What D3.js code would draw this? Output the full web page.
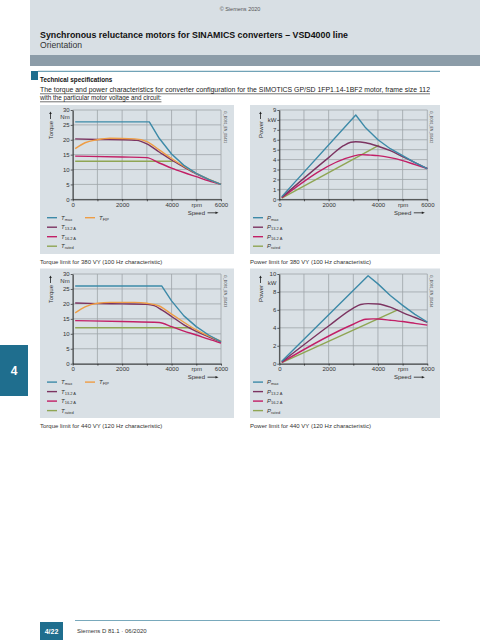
<!DOCTYPE html>
<html><head><meta charset="utf-8">
<script src="https://cdn.jsdelivr.net/npm/d3@7"></script>
<style>body{margin:0;background:#fff;} svg{display:block;font-family:"Liberation Sans",Arial,sans-serif;}</style>
</head><body><svg id="c" width="480" height="640"></svg>
<script>
// ---------- data ----------
const speedGrid = [0,1000,2000,3000,4000,5000,6000];
const speedTickLabels = ["0","","2000","","4000","rpm","6000"];
const torqueTicks = [0,5,10,15,20,25,30];
const torqueTickLabels = ["0","5","10","15","20","25","30"];
const power380Ticks = [0,1,2,3,4,5,6,7,8,9];
const power380TickLabels = ["0","1","2","3","4","5","6","7","kW","9"];
const power440Ticks = [0,2,4,6,8,10];
const power440TickLabels = ["0","2","4","6","8","10"];

const torqueLegend = ["max","13.2 A","16.2 A","rated"];
const powerLegend = ["max","13.2 A","16.2 A","rated"];

// 380 VY torque (Nm) vs speed (rpm)
const t380MaxN = [100,3100,3500,4000,4500,5000,5500,6000];
const t380Max  = [26,26,20.5,15.2,11.4,8.7,6.7,5.0];
const t380A132N = [100,1000,2000,2600,3000,3500,4000,4500,5000,5500,6000];
const t380A132  = [20.3,20.1,20.0,19.8,18.6,15.9,13.2,10.8,8.5,6.6,5.0];
const t380A162N = [100,2000,3000,3500,4000,4500,5000,5500,6000];
const t380A162  = [14.5,14.2,14.0,12.2,10.5,9.0,7.6,6.2,5.0];
const t380RatedN = [100,4050];
const t380Rated  = [12.8,12.8];
const t380FipN = [100,500,1000,1500,2500,3000,3500,4000,5000,6000];
const t380Fip  = [17.0,19.0,20.0,20.5,20.3,19.4,16.6,13.7,8.7,5.0];

// 380 VY power (kW)
const p380MaxN = [100,3100,3500,4000,4500,5000,5500,6000];
const p380Max  = [0.27,8.5,7.2,6.0,5.1,4.4,3.7,3.1];
const p380A132N = [100,2000,2600,2900,3100,3500,4000,4500,5000,5500,6000];
const p380A132  = [0.2,4.2,5.4,5.75,5.8,5.7,5.35,4.9,4.3,3.7,3.1];
const p380A162N = [100,3000,3300,3700,4000,4500,5000,5500,6000];
const p380A162  = [0.15,4.35,4.5,4.45,4.4,4.2,3.9,3.5,3.1];
const p380RatedN = [100,4050];
const p380Rated  = [0.13,5.45];

// 440 VY torque (Nm)
const t440MaxN = [100,3600,4000,4500,5000,5500,6000];
const t440Max  = [26,26,21,16,12.4,9.6,7.4];
const t440A132N = [100,1000,2000,3000,3300,3600,4000,4500,5000,5500,6000];
const t440A132  = [20.3,20.1,20.0,19.9,19.4,18.0,15.8,13.0,10.8,9.0,7.3];
const t440A162N = [100,2000,3500,4000,4500,5000,5500,6000];
const t440A162  = [14.4,14.1,13.8,12.4,10.9,9.6,8.2,6.9];
const t440RatedN = [100,4800];
const t440Rated  = [12.0,12.0];
const t440FipN = [100,500,1000,1500,2500,3000,3500,4000,5000,6000];
const t440Fip  = [17.0,19.0,20.2,20.5,20.5,20.2,19.3,16.6,11.3,7.5];

// 440 VY power (kW)
const p440MaxN = [100,3600,4000,4500,5000,5500,6000];
const p440Max  = [0.27,9.8,8.9,7.6,6.5,5.5,4.65];
const p440A132N = [100,2000,3000,3300,3600,4000,4500,5000,5500,6000];
const p440A132  = [0.2,4.2,6.2,6.6,6.7,6.65,6.3,5.7,5.15,4.6];
const p440A162N = [100,3000,3500,3800,4000,4500,5000,5500,6000];
const p440A162  = [0.15,4.4,4.95,5.0,4.98,4.85,4.7,4.5,4.3];
const p440RatedN = [100,4800];
const p440Rated  = [0.12,6.0];

// ---------- styles ----------
const C = {max:"#3d8aa8", a132:"#7c3461", a162:"#c21f66", rated:"#8fa553", fip:"#ee9d45"};
const teal = "#1f6e8e";
const panelFill = "#d9e0e5";

const svg = d3.select("#c");
const zip = (n,v)=>n.map((d,i)=>[d,v[i]]);

// ---------- page furniture ----------
svg.append("rect").attr("x",30).attr("y",0).attr("width",450).attr("height",55).attr("fill","#d8dfe4");
svg.append("rect").attr("x",30).attr("y",55).attr("width",450).attr("height",11).attr("fill","#8c9ca8");
svg.append("text").attr("x",240).attr("y",11).attr("text-anchor","middle").attr("font-size",5.5).attr("fill","#555").text("© Siemens 2020");
svg.append("text").attr("x",40).attr("y",37.5).attr("font-size",8.6).attr("font-weight","bold").attr("fill","#111")
  .attr("textLength",308).attr("lengthAdjust","spacingAndGlyphs")
  .text("Synchronous reluctance motors for SINAMICS converters – VSD4000 line");
svg.append("text").attr("x",40).attr("y",47.5).attr("font-size",8.6).attr("fill","#333").text("Orientation");

svg.append("rect").attr("x",31).attr("y",71).attr("width",7).attr("height",9).attr("fill",teal);
svg.append("line").attr("x1",38).attr("x2",440).attr("y1",71.3).attr("y2",71.3).attr("stroke",teal).attr("stroke-width",0.8);
svg.append("text").attr("x",40).attr("y",82).attr("font-size",6.3).attr("font-weight","bold").attr("fill","#111").text("Technical specifications");
const p1 = svg.append("text").attr("x",40).attr("y",92).attr("font-size",6.3).attr("fill","#222")
  .attr("textLength",390).attr("lengthAdjust","spacingAndGlyphs")
  .text("The torque and power characteristics for converter configuration for the SIMOTICS GP/SD 1FP1.14-1BF2 motor, frame size 112");
const p2 = svg.append("text").attr("x",40).attr("y",100.3).attr("font-size",6.3).attr("fill","#222")
  .text("with the particular motor voltage and circuit:");
svg.append("line").attr("x1",40).attr("x2",430).attr("y1",93.8).attr("y2",93.8).attr("stroke","#111").attr("stroke-width",0.6);
const w2 = p2.node().getComputedTextLength();
svg.append("line").attr("x1",40).attr("x2",40+w2).attr("y1",101.8).attr("y2",101.8).attr("stroke","#111").attr("stroke-width",0.6);

// side tab
svg.append("rect").attr("x",0).attr("y",345).attr("width",28).attr("height",51).attr("fill",teal);
svg.append("text").attr("x",14).attr("y",375).attr("text-anchor","middle").attr("font-size",12).attr("font-weight","bold").attr("fill","#fff").text("4");

// footer
svg.append("rect").attr("x",40).attr("y",622).attr("width",23).attr("height",18).attr("fill",teal);
svg.append("text").attr("x",51.5).attr("y",634).attr("text-anchor","middle").attr("font-size",7).attr("font-weight","bold").attr("fill","#fff").text("4/22");
svg.append("line").attr("x1",75).attr("x2",440).attr("y1",620.5).attr("y2",620.5).attr("stroke",teal).attr("stroke-width",0.6);
svg.append("text").attr("x",77).attr("y",633).attr("font-size",6).attr("fill","#333").text("Siemens D 81.1 · 06/2020");

// ---------- chart drawing ----------
function chart(o){
  const x = d3.scaleLinear().domain([0,6000]).range([o.x0,o.x1]);
  const y = d3.scaleLinear().domain([0,o.ymax]).range([o.y0,o.y1]);
  svg.append("rect").attr("x",o.px).attr("y",o.py).attr("width",o.pw).attr("height",o.ph).attr("fill",panelFill);
  const g = svg.append("g");
  g.selectAll("line.v").data(speedGrid).join("line").attr("class","v")
    .attr("x1",d=>x(d)).attr("x2",d=>x(d)).attr("y1",y(0)).attr("y2",y(o.ymax))
    .attr("stroke","#9ea4a8").attr("stroke-width",0.8);
  g.selectAll("line.h").data(o.yticks).join("line").attr("class","h")
    .attr("x1",x(0)).attr("x2",x(6000)).attr("y1",d=>y(d)).attr("y2",d=>y(d))
    .attr("stroke","#9ea4a8").attr("stroke-width",0.8);

  const ax = svg.append("g").attr("transform",`translate(0,${y(0)})`)
    .call(d3.axisBottom(x).tickValues(speedGrid).tickSize(2).tickSizeOuter(0).tickFormat((d,i)=>speedTickLabels[i]));
  const ay = svg.append("g").attr("transform",`translate(${x(0)},0)`)
    .call(d3.axisLeft(y).tickValues(o.yticks).tickSize(2).tickSizeOuter(0).tickFormat((d,i)=>o.ylabels[i]));
  [ax,ay].forEach(a=>{
    a.select(".domain").attr("stroke","#222").attr("stroke-width",0.9);
    a.selectAll(".tick line").attr("stroke","#222").attr("stroke-width",0.7);
    a.selectAll("text").attr("font-size",6).attr("fill","#333").attr("font-family","Liberation Sans, Arial, sans-serif");
  });
  ax.selectAll("text").attr("dy","0.9em").attr("y",2);
  ay.selectAll("text").attr("x",-3);
  if(o.unitAt!=null){
    svg.append("text").attr("x",x(0)-3).attr("y",y(o.unitAt)).attr("dy","0.32em").attr("text-anchor","end")
      .attr("font-size",6).attr("fill","#333").text(o.unit);
  }

  // lines
  o.series.forEach(s=>{
    const line = d3.line().x(d=>x(d[0])).y(d=>y(d[1])).curve(s.curve||d3.curveMonotoneX);
    svg.append("path").datum(zip(s.n,s.v)).attr("d",line).attr("fill","none")
      .attr("stroke",s.color).attr("stroke-width",1.4).attr("stroke-linejoin","round");
  });

  // y label with arrow
  const lx = o.px+10.5;
  svg.append("text").attr("transform",`translate(${lx+2.2},${o.y1+11}) rotate(-90)`)
    .attr("text-anchor","end").attr("font-size",6).attr("fill","#333").text(o.ylabel);
  svg.append("line").attr("x1",lx).attr("x2",lx).attr("y1",o.y1+9).attr("y2",o.y1+3.5).attr("stroke","#222").attr("stroke-width",0.8);
  svg.append("path").attr("d",`M${lx-1.3},${o.y1+4} L${lx},${o.y1+1.5} L${lx+1.3},${o.y1+4} Z`).attr("fill","#222");

  // speed label
  const sy = y(0)+15.5;
  svg.append("text").attr("x",x(6000)-16).attr("y",sy).attr("text-anchor","end").attr("font-size",6).attr("fill","#333").text("Speed");
  svg.append("line").attr("x1",x(6000)-13.5).attr("x2",x(6000)-5).attr("y1",sy-2).attr("y2",sy-2).attr("stroke","#222").attr("stroke-width",0.8);
  svg.append("path").attr("d",`M${x(6000)-5.5},${sy-3.3} L${x(6000)-2.5},${sy-2} L${x(6000)-5.5},${sy-0.7} Z`).attr("fill","#222");

  // code label
  svg.append("text").attr("transform",`translate(${x(6000)+3},${y(o.ymax)+1}) rotate(90)`)
    .attr("font-size",3.6).attr("fill","#444").text(o.code);

  // legend
  const rows = [18.4,27.9,37.4,46.9];
  o.legend.forEach((lab,i)=>{
    const ly = y(0)+rows[i];
    svg.append("line").attr("x1",o.px+o.lgx).attr("x2",o.px+o.lgx+10).attr("y1",ly).attr("y2",ly)
      .attr("stroke",o.legendColors[i]).attr("stroke-width",1.4);
    const t = svg.append("text").attr("x",o.px+o.lgx+14).attr("y",ly+2).attr("font-size",6).attr("fill","#333");
    t.append("tspan").attr("font-style","italic").text(o.sym);
    t.append("tspan").attr("font-size",4).attr("dy",1.2).text(lab);
  });
  if(o.fip){
    const ly = y(0)+rows[0];
    svg.append("line").attr("x1",o.px+45).attr("x2",o.px+55).attr("y1",ly).attr("y2",ly).attr("stroke",C.fip).attr("stroke-width",1.4);
    const t = svg.append("text").attr("x",o.px+59).attr("y",ly+2).attr("font-size",6).attr("fill","#333");
    t.append("tspan").attr("font-style","italic").text("T");
    t.append("tspan").attr("font-size",4).attr("dy",1.2).text("FIP");
  }
  // caption
  svg.append("text").attr("x",o.px).attr("y",o.py+o.ph+10).attr("font-size",6).attr("fill","#333").text(o.caption);
}

const legendColors = [C.max,C.a132,C.a162,C.rated];

chart({px:40,py:105,pw:194,ph:149,x0:72.7,x1:221,y0:199.3,y1:110,ymax:30,
  yticks:torqueTicks,ylabels:torqueTickLabels,unit:"Nm",unitAt:27.5,ylabel:"Torque",sym:"T",lgx:7,fip:true,
  legend:torqueLegend,legendColors,code:"G_D081_EN_00431",
  caption:"Torque limit for 380 VY (100 Hz characteristic)",
  series:[
    {n:t380RatedN,v:t380Rated,color:C.rated,curve:d3.curveLinear},
    {n:t380A162N,v:t380A162,color:C.a162},
    {n:t380A132N,v:t380A132,color:C.a132},
    {n:t380FipN,v:t380Fip,color:C.fip},
    {n:t380MaxN,v:t380Max,color:C.max,curve:d3.curveLinear}
  ]});

chart({px:250,py:105,pw:190,ph:149,x0:279.3,x1:427.3,y0:199.3,y1:110,ymax:9,
  yticks:power380Ticks,ylabels:power380TickLabels,unit:null,unitAt:null,ylabel:"Power",sym:"P",lgx:3,fip:false,
  legend:powerLegend,legendColors,code:"G_D081_EN_00432",
  caption:"Power limit for 380 VY (100 Hz characteristic)",
  series:[
    {n:p380RatedN,v:p380Rated,color:C.rated,curve:d3.curveLinear},
    {n:p380A162N,v:p380A162,color:C.a162},
    {n:p380A132N,v:p380A132,color:C.a132},
    {n:p380MaxN,v:p380Max,color:C.max,curve:d3.curveLinear}
  ]});

chart({px:40,py:268.5,pw:194,ph:149.5,x0:72.7,x1:221,y0:363.7,y1:274,ymax:30,
  yticks:torqueTicks,ylabels:torqueTickLabels,unit:"Nm",unitAt:27.5,ylabel:"Torque",sym:"T",lgx:7,fip:true,
  legend:torqueLegend,legendColors,code:"G_D081_EN_00433",
  caption:"Torque limit for 440 VY (120 Hz characteristic)",
  series:[
    {n:t440RatedN,v:t440Rated,color:C.rated,curve:d3.curveLinear},
    {n:t440A162N,v:t440A162,color:C.a162},
    {n:t440A132N,v:t440A132,color:C.a132},
    {n:t440FipN,v:t440Fip,color:C.fip},
    {n:t440MaxN,v:t440Max,color:C.max,curve:d3.curveLinear}
  ]});

chart({px:250,py:268.5,pw:190,ph:149.5,x0:279.3,x1:427.3,y0:363.7,y1:274,ymax:10,
  yticks:power440Ticks,ylabels:power440TickLabels,unit:"kW",unitAt:9,ylabel:"Power",sym:"P",lgx:3,fip:false,
  legend:powerLegend,legendColors,code:"G_D081_EN_00434",
  caption:"Power limit for 440 VY (120 Hz characteristic)",
  series:[
    {n:p440RatedN,v:p440Rated,color:C.rated,curve:d3.curveLinear},
    {n:p440A162N,v:p440A162,color:C.a162},
    {n:p440A132N,v:p440A132,color:C.a132},
    {n:p440MaxN,v:p440Max,color:C.max,curve:d3.curveLinear}
  ]});
</script></body></html>
